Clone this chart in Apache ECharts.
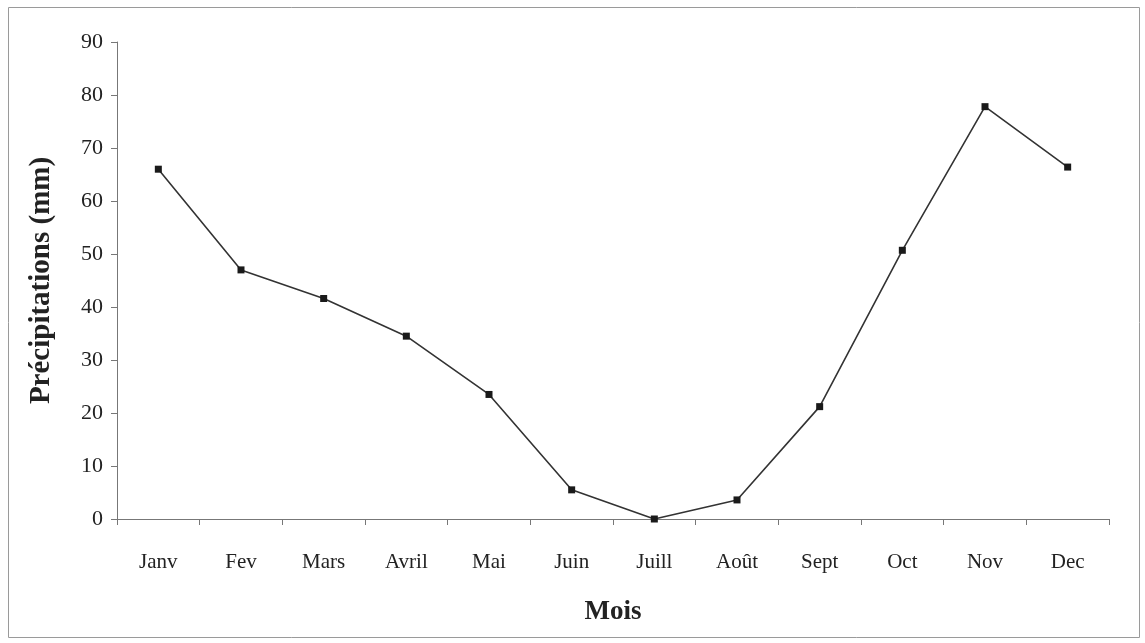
<!DOCTYPE html>
<html>
<head>
<meta charset="utf-8">
<script src="https://cdn.jsdelivr.net/npm/echarts@6/dist/echarts.min.js"></script>
<style>
  html, body { margin: 0; padding: 0; background: #fff; }
  #chart { width: 1145px; height: 643px; }
</style>
</head>
<body>
<div id="chart"></div>
<script>
const months = ['Janv', 'Fev', 'Mars', 'Avril', 'Mai', 'Juin', 'Juill', 'Août', 'Sept', 'Oct', 'Nov', 'Dec']
const precip = [66, 47, 41.6, 34.5, 23.5, 5.5, 0, 3.6, 21.2, 50.7, 77.8, 66.4]
const yMin = 0
const yMax = 90
const yStep = 10

const font = 'Liberation Serif'
const chart = echarts.init(document.getElementById('chart'))

chart.setOption({
  animation: false,
  textStyle: { fontFamily: font },
  graphic: [{
    type: 'rect',
    shape: { x: 8.5, y: 7.5, width: 1131, height: 630 },
    style: { fill: 'none', stroke: '#9a9a9a', lineWidth: 1 }
  }],
  grid: { left: 117, right: 36, top: 42, bottom: 124 },
  xAxis: {
    type: 'category',
    data: months,
    boundaryGap: true,
    name: 'Mois',
    nameLocation: 'middle',
    nameGap: 80,
    nameTextStyle: { fontFamily: font, fontSize: 27, fontWeight: 'bold', color: '#222' },
    axisLine: { lineStyle: { color: '#777', width: 1 } },
    axisTick: { show: true, length: 6, inside: false, lineStyle: { color: '#777' } },
    axisLabel: { fontFamily: font, fontSize: 21, color: '#222', margin: 33, interval: 0 }
  },
  yAxis: {
    type: 'value',
    min: yMin,
    max: yMax,
    interval: yStep,
    name: 'Précipitations (mm)',
    nameLocation: 'middle',
    nameGap: 61,
    nameTextStyle: { fontFamily: font, fontSize: 29, fontWeight: 'bold', color: '#222' },
    axisLine: { show: true, lineStyle: { color: '#777', width: 1 } },
    axisTick: { show: true, length: 6, lineStyle: { color: '#777' } },
    axisLabel: { fontFamily: font, fontSize: 22, color: '#222', margin: 14 },
    splitLine: { show: false }
  },
  series: [{
    name: 'Précipitations',
    type: 'line',
    data: precip,
    symbol: 'rect',
    symbolSize: 7,
    itemStyle: { color: '#1a1a1a' },
    lineStyle: { color: '#333', width: 1.6 }
  }]
})
</script>
</body>
</html>
